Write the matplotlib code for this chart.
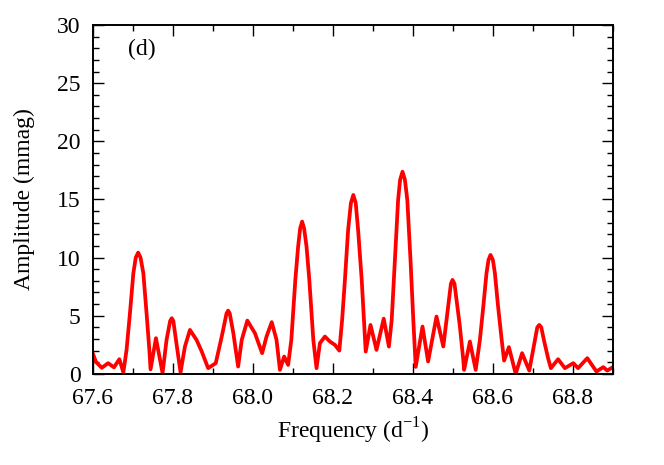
import matplotlib.pyplot as plt
from matplotlib.ticker import MultipleLocator

# Amplitude spectrum (frequency in d^-1, amplitude in mmag)
freq = [67.600, 67.6075, 67.622, 67.638, 67.6525, 67.666, 67.676, 67.684, 67.6925,
        67.701, 67.707, 67.713, 67.719, 67.726, 67.734, 67.741, 67.744, 67.7575, 67.774, 67.784,
        67.793, 67.797, 67.801, 67.8075, 67.819, 67.830, 67.8425, 67.859, 67.872, 67.888, 67.907,
        67.922, 67.934, 67.938, 67.942, 67.951, 67.963, 67.972, 67.986, 68.005, 68.023, 68.034,
        68.047, 68.059, 68.0675, 68.078, 68.088, 68.096, 68.101, 68.106, 68.113, 68.118,
        68.123, 68.128, 68.134, 68.141, 68.146, 68.151, 68.159, 68.1675, 68.180, 68.1925,
        68.205, 68.216, 68.223, 68.230, 68.238, 68.245, 68.251, 68.257, 68.263, 68.272, 68.2775,
        68.282, 68.294, 68.309, 68.327, 68.340, 68.347, 68.355, 68.363, 68.368, 68.374,
        68.380, 68.386, 68.394, 68.401, 68.407, 68.424, 68.438, 68.459, 68.476, 68.482,
        68.490, 68.495, 68.499, 68.504, 68.509, 68.5175, 68.526, 68.528, 68.5425, 68.557, 68.5675,
        68.576, 68.584, 68.589, 68.594, 68.600, 68.605, 68.613, 68.622, 68.628, 68.640, 68.657,
        68.673, 68.691, 68.705, 68.711, 68.716, 68.721, 68.7275, 68.738, 68.745, 68.763, 68.780,
        68.801, 68.813, 68.836, 68.859, 68.876, 68.886, 68.900]
amp = [1.72, 1.03, 0.52, 0.92, 0.56, 1.26, 0.13, 2.06, 5.22,
       8.66, 10.0, 10.43, 10.0, 8.66, 5.22, 2.06, 0.39, 3.07, 0.06, 2.92,
       4.55, 4.79, 4.55, 2.92, 0.13, 2.35, 3.78, 2.92, 1.92, 0.49, 0.92,
       3.21, 5.2, 5.44, 5.2, 3.50, 0.63, 2.92, 4.58, 3.50, 1.78, 3.21,
       4.45, 2.92, 0.34, 1.49, 0.77, 2.92, 5.50, 8.08, 10.95, 12.5,
       13.10, 12.5, 10.95, 8.08, 5.50, 2.92, 0.49, 2.64, 3.21, 2.78,
       2.49, 2.00, 4.64, 8.08, 12.38, 14.7, 15.39, 14.7, 12.38, 8.08, 4.64,
       1.92, 4.21, 2.06, 4.75, 2.35, 4.64, 9.80, 14.96, 16.7, 17.39,
       16.7, 14.96, 9.80, 4.64, 0.60, 4.07, 1.06, 4.93, 2.35, 4.07,
       6.36, 7.75, 8.08, 7.75, 6.36, 4.07, 1.20, 0.34, 2.78, 0.34, 2.92,
       5.79, 8.66, 9.8, 10.23, 9.8, 8.66, 5.79, 2.92, 1.14, 2.30, 0.00,
       1.78, 0.28, 2.92, 4.0, 4.21, 4.0, 2.92, 1.35, 0.49, 1.26, 0.49,
       0.92, 0.49, 1.35, 0.20, 0.58, 0.28, 0.58]

plt.rcParams['font.family'] = ['Liberation Serif', 'DejaVu Serif']
plt.rcParams['font.size'] = 17

fig = plt.figure(figsize=(6.64, 4.65), dpi=100)
ax = fig.add_axes([0.140, 0.196, 0.783, 0.750])

ax.plot(freq, amp, color='#ff0000', linewidth=2.7, solid_joinstyle='round')

ax.set_xlim(67.6, 68.9)
ax.set_ylim(0, 30)
ax.xaxis.set_major_locator(MultipleLocator(0.2))
ax.xaxis.set_minor_locator(MultipleLocator(0.1))
ax.yaxis.set_major_locator(MultipleLocator(5))
ax.yaxis.set_minor_locator(MultipleLocator(1))
ax.tick_params(which='both', direction='in', top=True, right=True, width=1.0)
ax.tick_params(which='major', length=8, labelsize=17)
ax.tick_params(axis='x', which='major', pad=10)
ax.tick_params(axis='y', which='major', pad=9)
ax.tick_params(which='minor', length=4.5)
for s in ax.spines.values():
    s.set_linewidth(1.4)

ax.set_xlabel('Frequency (d$^{\\mathregular{-1}}$)', fontsize=17, labelpad=5)
ax.set_ylabel('Amplitude (mmag)', fontsize=17, labelpad=16)
ax.text(0.067, 0.93, '(d)', transform=ax.transAxes, fontsize=17, va='center', ha='left')

fig.savefig('out.png', dpi=100)
